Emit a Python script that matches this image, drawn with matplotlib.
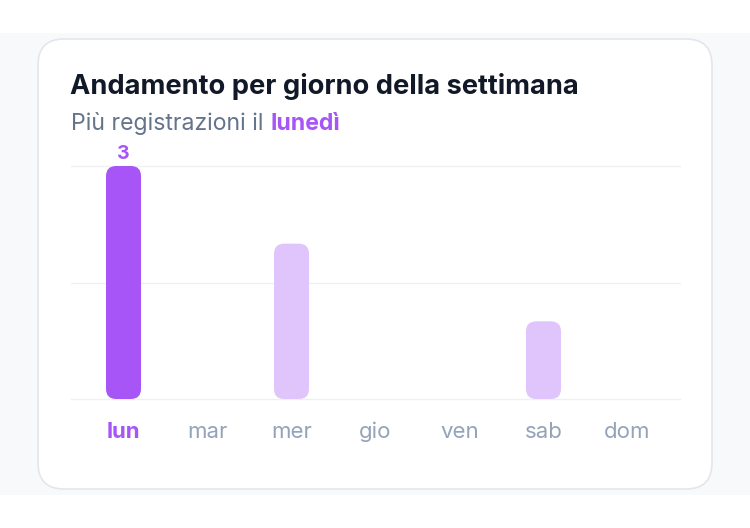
import matplotlib
matplotlib.use("Agg")
import matplotlib.pyplot as plt
from matplotlib.patches import FancyBboxPatch, Rectangle

plt.rcParams['font.family'] = ['Inter', 'DejaVu Sans']

# data
days = ['lun', 'mar', 'mer', 'gio', 'ven', 'sab', 'dom']
counts = [3, 0, 2, 0, 0, 1, 0]
title = 'Andamento per giorno della settimana'
subtitle = 'Più registrazioni il '
subtitle_hl = 'lunedì'

PURPLE = '#a855f7'
LIGHT = '#dfc5fb'
TICK = '#94a3b8'

W, H = 750, 528
fig = plt.figure(figsize=(W / 100, H / 100), dpi=100)
fig.patch.set_facecolor('white')

# background + card, drawn in pixel coordinates
bg = fig.add_axes([0, 0, 1, 1], zorder=0)
bg.set_xlim(0, W)
bg.set_ylim(H, 0)
bg.axis('off')
bg.add_patch(Rectangle((0, 33), W, 462, facecolor='#f8f9fa', edgecolor='none'))
bg.add_patch(FancyBboxPatch((38, 39), 674, 450,
                            boxstyle='round,pad=0,rounding_size=26',
                            facecolor='white', edgecolor='#e3e6ec', lw=1.2))

bg.text(70, 86, title, fontsize=19.6, fontweight='bold',
        color='#111827', va='center', ha='left')
t2 = bg.text(71, 130, subtitle, fontsize=16.6, color='#64748b',
             va='baseline', ha='left')
fig.canvas.draw()
ext = t2.get_window_extent(fig.canvas.get_renderer())
bg.text(71 + ext.width, 130, subtitle_hl, fontsize=16.6, fontweight='bold',
        color=PURPLE, va='baseline', ha='left')

# chart axes: x 71..680, y 166..399 px
ax = fig.add_axes([71 / W, (H - 399) / H, (680 - 71) / W, (399 - 166) / H], zorder=1)
ax.set_facecolor('none')
ax.set_xlim(-0.625, 6.625)
ax.set_ylim(0, 3)
for s in ax.spines.values():
    s.set_visible(False)
for g in [0, 1.5, 3]:
    ax.axhline(g, color='#eef0f3', lw=1, zorder=0, clip_on=False)

bw = 35 / 84
bars = ax.bar(range(len(days)), counts, width=bw)
max_c = max(counts)
# x unit = 84 px, y unit = 233/3 px
aspect = 84 / (233 / 3)
for i, b in enumerate(bars):
    b.remove()
    if counts[i] == 0:
        continue
    col = PURPLE if counts[i] == max_c else LIGHT
    ax.add_patch(FancyBboxPatch((b.get_x(), b.get_y()), b.get_width(), b.get_height(),
                                boxstyle='round,pad=0,rounding_size=0.12',
                                mutation_aspect=aspect,
                                facecolor=col, edgecolor='none', zorder=2,
                                clip_on=False))
    if counts[i] == max_c:
        ax.annotate(str(counts[i]), (i, counts[i]), xytext=(0, 2),
                    textcoords='offset points', ha='center', va='bottom',
                    fontsize=14, fontweight='bold', color=PURPLE)

ax.set_yticks([])
ax.set_xticks(range(len(days)))
ax.set_xticklabels(days, fontsize=16, color=TICK)
ax.tick_params(axis='x', length=0, pad=16.5)
for i, lab in enumerate(ax.get_xticklabels()):
    if counts[i] == max_c:
        lab.set_color(PURPLE)
        lab.set_fontweight('bold')

fig.savefig('out.png', dpi=100, facecolor='white')
